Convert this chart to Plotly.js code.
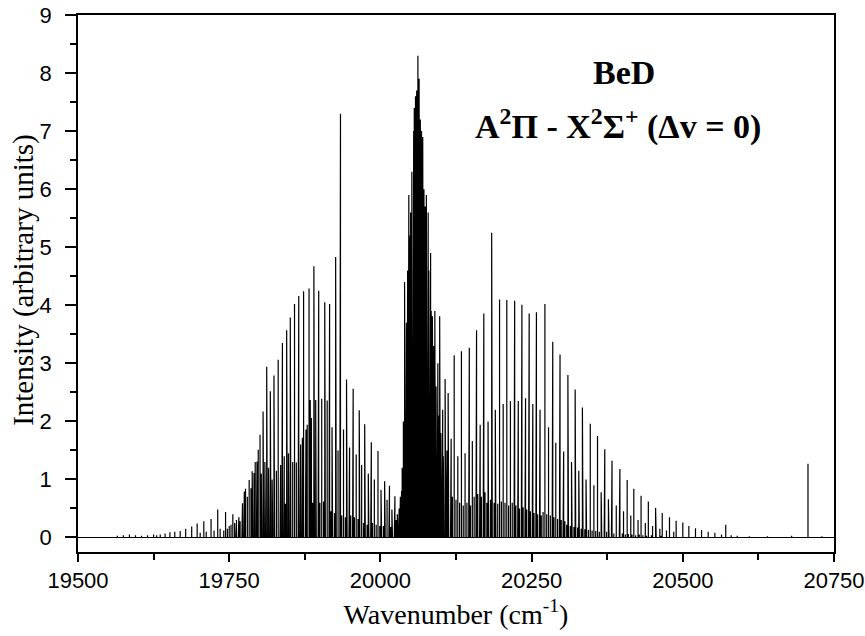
<!DOCTYPE html>
<html>
<head>
<meta charset="utf-8">
<script src="https://cdn.plot.ly/plotly-3.0.1.min.js"></script>
<style>html,body{margin:0;padding:0;background:#fff}#chart{width:865px;height:636px}</style>
</head>
<body>
<div id="chart"></div>
<script>
// ---- Data ----
// Strong P-branch lines (wavenumber cm-1, intensity)
var pPos = [19636,19644,19652,19660,19669,19678,19688,19697,19708,19720,19731,19744,19756,19772,19777,19783,19788,19793,19798,19801,19806,19812,19818,19824,19831,19838,19845,19851,19858,19865,19873,19882,19890,19898,19908,19916,19926,19934,19944,19955,19965,19974,19985,19996,20007,20015,20024];
var pInt = [0.05,0.07,0.09,0.10,0.11,0.15,0.19,0.24,0.28,0.32,0.48,0.44,0.40,0.59,0.84,0.99,1.14,1.30,1.51,1.77,2.17,2.94,2.52,2.79,3.06,3.35,3.57,3.79,4.02,4.16,4.24,4.29,4.67,4.25,4.05,4.02,4.83,7.30,2.72,2.56,2.19,1.95,1.64,1.49,0.97,0.89,0.71];
// Medium P-side lines
var pmPos = [19760,19766,19775,19780,19786,19791,19796,19803,19809,19815,19821,19828,19835,19841,19848,19855,19861,19868,19871,19877,19879,19884,19886,19893,19903,19912,19920,19930,19939,19949,19960,19969,19980,19990,20001,20011,20019,20028];
var pmInt = [0.25,0.35,0.79,0.70,0.85,1.11,1.31,1.10,1.30,1.20,1.00,1.15,1.25,1.40,1.45,1.30,1.29,1.60,1.72,1.86,1.94,2.37,2.06,2.37,2.39,2.36,1.90,1.50,1.86,1.55,1.43,1.25,1.10,1.00,0.82,0.65,0.48,0.40];
// Weak P-side lines
var pwPos = [19565,19575,19585,19595,19605,19615,19625,19630,19702,19712,19725,19735,19741,19744,19747,19750,19753,19756,19759,19762,19765,19768,19771,19774,19777,19780,19783,19786,19789,19792,19795,19798,19801,19804,19807,19810,19813,19816,19819,19822,19825,19828,19831,19834,19837,19840,19843,19846,19849,19852,19855,19858,19861,19864,19867,19870,19873,19876,19879,19882,19885,19888,19891,19894,19897,19900,19903,19906,19909,19912,19915,19918,19921,19924,19927,19930,19933,19936,19939,19942,19945,19948,19951,19954,19957,19960,19963,19966,19969,19972,19975,19978,19981,19984,19987,19990,19993,19996,19999,20002,20005,20008,20011,20014,20017,20020,20023,20026,20029];
var pwInt = [0.03,0.04,0.05,0.04,0.03,0.04,0.05,0.04,0.08,0.10,0.12,0.15,0.12,0.18,0.15,0.20,0.22,0.18,0.25,0.30,0.22,0.28,0.35,0.30,0.40,0.33,0.45,0.38,0.50,0.40,0.55,0.45,0.60,0.50,0.62,0.48,0.65,0.55,0.70,0.50,0.60,0.72,0.55,0.68,0.60,0.75,0.58,0.70,0.62,0.78,0.60,0.70,0.65,0.80,0.60,0.75,0.70,0.62,0.80,0.65,0.72,0.60,0.70,0.55,0.68,0.60,0.50,0.62,0.55,0.48,0.58,0.45,0.52,0.42,0.50,0.40,0.45,0.38,0.42,0.35,0.40,0.32,0.38,0.30,0.35,0.28,0.32,0.26,0.30,0.25,0.28,0.22,0.27,0.20,0.25,0.20,0.22,0.18,0.20,0.17,0.20,0.16,0.19,0.15,0.18,0.20,0.25,0.30,0.35];
// Q-branch head
var qPos = [20030,20031,20032,20033,20034,20035,20036,20037,20038,20039,20040,20041,20042,20043,20044,20045,20046,20047,20048,20049,20050,20051,20052,20053,20054,20055,20056,20057,20058,20059,20060,20061,20062,20063,20064,20065,20066,20067,20068,20069,20070,20071,20072,20073,20074,20075,20076,20077,20078,20079,20080,20081,20082,20083,20084,20085,20087,20088,20089,20090,20091,20092,20093,20094,20095,20096,20097,20099,20100,20101,20102,20103,20104,20105,20108,20109,20110];
var qInt = [0.30,0.50,0.40,0.70,0.60,0.80,1.20,1.00,2.00,1.60,4.40,2.80,3.30,3.70,3.00,4.60,4.00,5.90,4.80,5.20,5.60,4.90,6.30,5.60,6.60,7.00,7.40,6.50,7.60,7.00,7.70,7.30,8.30,7.40,7.90,7.30,7.20,6.80,7.00,6.40,6.90,5.90,6.00,5.50,5.70,5.20,5.90,4.90,5.00,5.60,4.60,4.40,4.80,4.90,3.90,3.50,3.00,3.30,2.80,3.90,2.50,2.60,2.20,2.40,3.00,1.90,2.10,1.70,1.80,1.50,1.60,1.30,1.40,1.20,1.10,0.90,1.50];
// Strong R-branch lines
var rPos = [20086,20098,20107,20112,20122,20134,20147,20159,20171,20184,20197,20209,20222,20234,20246,20258,20272,20285,20297,20310,20322,20334,20347,20359,20371,20383,20396,20408,20419,20431,20443,20455,20466,20478,20489,20500,20510,20521,20531,20542,20553,20564,20571,20580,20590,20707];
var rInt = [3.81,3.81,2.73,2.49,3.14,3.21,3.27,3.57,3.86,5.25,4.10,4.09,4.08,4.01,3.86,3.88,4.02,3.37,3.15,2.80,2.55,2.24,1.96,1.75,1.52,1.32,1.18,0.99,0.84,0.72,0.62,0.51,0.42,0.35,0.29,0.26,0.20,0.16,0.13,0.10,0.08,0.05,0.22,0.04,0.03,1.27];
// Medium R-side lines
var rmPos = [20092,20103,20117,20128,20140,20152,20165,20178,20190,20203,20215,20228,20240,20252,20264,20278,20290,20303,20316,20328,20340,20353,20365,20377,20390,20402,20414,20426,20438,20450,20462,20473,20485];
var rmInt = [2.50,2.20,1.70,1.40,1.45,1.66,1.94,2.00,2.20,2.30,2.35,2.35,2.40,2.30,2.20,1.90,1.63,1.48,1.30,1.15,1.00,0.90,0.78,0.66,0.55,0.45,0.38,0.30,0.25,0.20,0.15,0.12,0.10];
// Weak R-side lines
var rwPos = [20110,20113,20116,20119,20125,20128,20131,20137,20140,20143,20146,20149,20152,20155,20158,20161,20164,20167,20170,20173,20176,20179,20182,20185,20188,20191,20194,20197,20200,20203,20206,20209,20212,20215,20218,20221,20224,20227,20230,20233,20236,20239,20242,20245,20248,20251,20254,20257,20260,20263,20266,20269,20272,20275,20278,20281,20284,20287,20290,20293,20296,20299,20302,20305,20308,20311,20314,20317,20320,20323,20326,20329,20332,20335,20338,20341,20344,20347,20350,20353,20356,20359,20362,20366,20370,20374,20378,20382,20386,20390,20395,20400,20405,20410,20416,20422,20428,20434,20440,20448,20456,20464,20610,20640,20680,20730];
var rwInt = [1.00,0.80,0.90,0.70,0.65,0.75,0.60,0.55,0.68,0.60,0.72,0.55,0.65,0.70,0.58,0.75,0.60,0.70,0.62,0.78,0.60,0.70,0.65,0.75,0.60,0.72,0.58,0.70,0.62,0.75,0.60,0.68,0.55,0.70,0.60,0.65,0.55,0.62,0.50,0.60,0.52,0.58,0.48,0.55,0.45,0.52,0.42,0.50,0.40,0.46,0.38,0.44,0.36,0.40,0.33,0.38,0.30,0.35,0.28,0.32,0.26,0.30,0.24,0.28,0.22,0.26,0.20,0.24,0.18,0.22,0.17,0.20,0.15,0.18,0.14,0.17,0.13,0.15,0.12,0.14,0.11,0.13,0.10,0.12,0.09,0.10,0.08,0.09,0.07,0.08,0.06,0.07,0.05,0.06,0.05,0.04,0.05,0.04,0.03,0.04,0.03,0.03,0.02,0.02,0.03,0.02];

var xTicks = [19500,19750,20000,20250,20500,20750];
var yTicks = [0,1,2,3,4,5,6,7,8,9];

// ---- Build one stick-spectrum trace ----
var all = [];
function add(P, I) { for (var i = 0; i < P.length; i++) all.push([P[i], I[i]]); }
add(pwPos, pwInt); add(pmPos, pmInt); add(pPos, pInt);
add(qPos, qInt); add(rwPos, rwInt); add(rmPos, rmInt); add(rPos, rInt);
all.sort(function (a, b) { return a[0] - b[0]; });
var X = [xTicks[0]], Y = [0];
all.forEach(function (d) { X.push(d[0], d[0], d[0]); Y.push(0, d[1], 0); });
X.push(xTicks[xTicks.length - 1]); Y.push(0);

var trace = { x: X, y: Y, type: 'scatter', mode: 'lines',
  line: { color: '#000', width: 1.2 }, hoverinfo: 'skip', showlegend: false };

var serif = 'Liberation Serif, Times New Roman, serif';
var tickFont = { family: 'Liberation Sans, Arial, sans-serif', size: 22, color: '#000' };
var titleFont = { family: serif, size: 28, color: '#000' };

var layout = {
  width: 865, height: 636,
  margin: { l: 78, r: 31, t: 15, b: 84 },
  paper_bgcolor: '#fff', plot_bgcolor: '#fff',
  xaxis: {
    range: [19500, 20750], tickvals: xTicks, ticktext: xTicks.map(String),
    ticks: 'outside', ticklen: 8, tickwidth: 2, tickcolor: '#000',
    minor: { dtick: 125, tick0: 19500, ticks: 'outside', ticklen: 6, tickwidth: 2, tickcolor: '#000' },
    showline: true, linewidth: 2, linecolor: '#000', mirror: true,
    showgrid: false, zeroline: false, tickfont: tickFont,
    title: { text: 'Wavenumber (cm<sup>-1</sup>)', font: titleFont, standoff: 12 }
  },
  yaxis: {
    range: [-0.25, 9], tickvals: yTicks,
    ticktext: yTicks.map(function (v) { return String(v) + '\u2009\u2009'; }),
    ticks: 'outside', ticklen: 11, tickwidth: 2, tickcolor: '#000',
    minor: { dtick: 0.5, tick0: 0, ticks: 'outside', ticklen: 6, tickwidth: 2, tickcolor: '#000' },
    showline: true, linewidth: 2, linecolor: '#000', mirror: true,
    showgrid: false, zeroline: false, tickfont: tickFont
  },
  annotations: [
    { xref: 'paper', yref: 'paper', x: -0.072, y: 0.506, xanchor: 'center', yanchor: 'middle',
      textangle: -90, text: 'Intensity (arbitrary units)', showarrow: false,
      font: { family: serif, size: 29, color: '#000' } },
    { xref: 'paper', yref: 'paper', x: 0.7222, y: 0.892, xanchor: 'center', yanchor: 'middle',
      text: '<b>BeD</b>', showarrow: false,
      font: { family: serif, size: 34, color: '#000' } },
    { xref: 'paper', yref: 'paper', x: 0.7143, y: 0.797, xanchor: 'center', yanchor: 'middle',
      text: '<b>A<sup>2</sup>Π - X<sup>2</sup>Σ<sup>+</sup> (Δv = 0)</b>', showarrow: false,
      font: { family: serif, size: 34, color: '#000' } }
  ]
};

Plotly.newPlot('chart', [trace], layout, { staticPlot: true, displayModeBar: false });
</script>
</body>
</html>
